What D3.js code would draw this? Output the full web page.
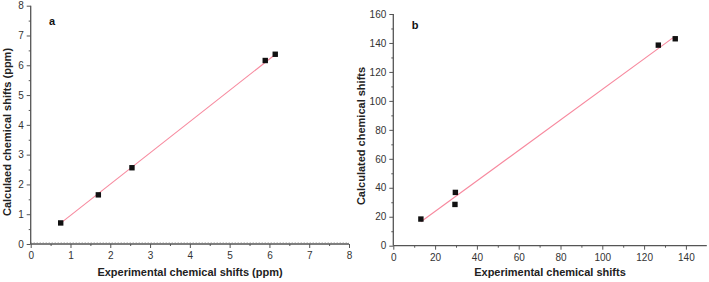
<!DOCTYPE html>
<html><head><meta charset="utf-8">
<script src="https://cdn.jsdelivr.net/npm/d3@7/dist/d3.min.js"></script>
<style>body{margin:0;background:#fff}svg{display:block;font-family:"Liberation Sans",Arial,sans-serif}</style>
</head><body><svg id="c" width="709" height="282"></svg>
<script>
// Panel a data
const expA = [0.754, 1.70, 2.545, 5.895, 6.146];
const calcA = [0.707, 1.65, 2.56, 6.16, 6.37];
const fitAx = [0.754, 6.146];
const fitAy = [0.70, 6.36];
const ticksA = [0,1,2,3,4,5,6,7,8];
// Panel b data
const expB = [13.2, 29.5, 29.7, 126.8, 134.9];
const calcB = [18.4, 28.5, 36.8, 138.5, 142.9];
const fitBx = [13.2, 134.9];
const fitBy = [16.5, 144.7];
const ticksBx = [0,20,40,60,80,100,120,140];
const ticksBy = [0,20,40,60,80,100,120,140,160];

const svg = d3.select("#c");
const axisCol = "#555";
const labCol = "#333";

function panel(o){
  const g = svg.append("g");
  const x = d3.scaleLinear().domain(o.xd).range(o.xr);
  const y = d3.scaleLinear().domain(o.yd).range(o.yr);
  if(o.dotted){
    g.append("line").attr("x1",o.xr[0]).attr("x2",o.xr[1]).attr("y1",o.yr[0]-1.5).attr("y2",o.yr[0]-1.5)
      .attr("stroke","#bbb").attr("stroke-width",1).attr("stroke-dasharray","1,2");
  }
  // x axis
  const xa = g.append("g").attr("transform",`translate(0,${o.yr[0]})`)
    .call(d3.axisBottom(x).tickValues(o.xt).tickSize(4).tickPadding(4).tickFormat(d3.format("d")));
  const xm = g.append("g").attr("transform",`translate(0,${o.yr[0]})`)
    .call(d3.axisBottom(x).tickValues(o.xm).tickSize(2).tickFormat(""));
  const ya = g.append("g").attr("transform",`translate(${o.xr[0]},0)`)
    .call(d3.axisLeft(y).tickValues(o.yt).tickSize(4).tickPadding(3).tickFormat(d3.format("d")));
  const ym = g.append("g").attr("transform",`translate(${o.xr[0]},0)`)
    .call(d3.axisLeft(y).tickValues(o.ym).tickSize(2).tickFormat(""));
  [xa,xm,ya,ym].forEach(a=>{
    a.selectAll("path").attr("stroke",axisCol).attr("stroke-width",1.3);
    a.selectAll("line").attr("stroke",axisCol).attr("stroke-width",1);
    a.selectAll("text").attr("fill",labCol).style("font-size","10px").style("font-family","'Liberation Sans',Arial,sans-serif");
  });
  xm.select("path").remove(); ym.select("path").remove();
  xa.select("path").attr("d",`M${o.xr[0]},0H${o.xr[1]}`);
  ya.select("path").attr("d",`M0,${o.yr[0]}V${o.yr[1]}`);
  // fit line
  g.append("line").attr("x1",x(o.fx[0])).attr("y1",y(o.fy[0])).attr("x2",x(o.fx[1])).attr("y2",y(o.fy[1]))
    .attr("stroke","#f7899e").attr("stroke-width",1.1);
  // points
  g.selectAll("rect.p").data(o.px.map((v,i)=>[v,o.py[i]])).enter().append("rect")
    .attr("x",d=>x(d[0])-2.7).attr("y",d=>y(d[1])-2.7).attr("width",5.4).attr("height",5.4).attr("fill","#111");
  // titles
  g.append("text").attr("x",o.xtx).attr("y",276).attr("text-anchor","middle")
    .style("font-weight","bold").style("font-size","11px").attr("fill","#222").text(o.xtitle);
  g.append("text").attr("transform",`translate(${o.ytx},${o.yty}) rotate(-90)`).attr("text-anchor","middle")
    .style("font-weight","bold").style("font-size","11px").attr("fill","#222").text(o.ytitle);
  g.append("text").attr("x",o.lx).attr("y",o.ly).attr("text-anchor","middle")
    .style("font-weight","bold").style("font-size","11px").attr("fill","#111").text(o.label);
}

panel({xd:[0,8],xr:[30.7,349],yd:[0,8],yr:[244,5.7],xt:ticksA,yt:ticksA,
  xm:d3.range(0.5,8,1),ym:d3.range(0.5,8,1),px:expA,py:calcA,fx:fitAx,fy:fitAy,dotted:true,
  xtitle:"Experimental chemical shifts (ppm)",xtx:190,ytitle:"Calculaed chemical shifts (ppm)",ytx:11,yty:132,
  label:"a",lx:52,ly:25});
panel({xd:[0,150],xr:[393.3,706.8],yd:[0,160],yr:[245.7,14],xt:ticksBx,yt:ticksBy,
  xm:d3.range(10,150,20),ym:d3.range(10,160,20),px:expB,py:calcB,fx:fitBx,fy:fitBy,dotted:false,
  xtitle:"Experimental chemical shifts",xtx:550,ytitle:"Calculated chemical shifts",ytx:365,yty:136,
  label:"b",lx:415,ly:29});
</script></body></html>
